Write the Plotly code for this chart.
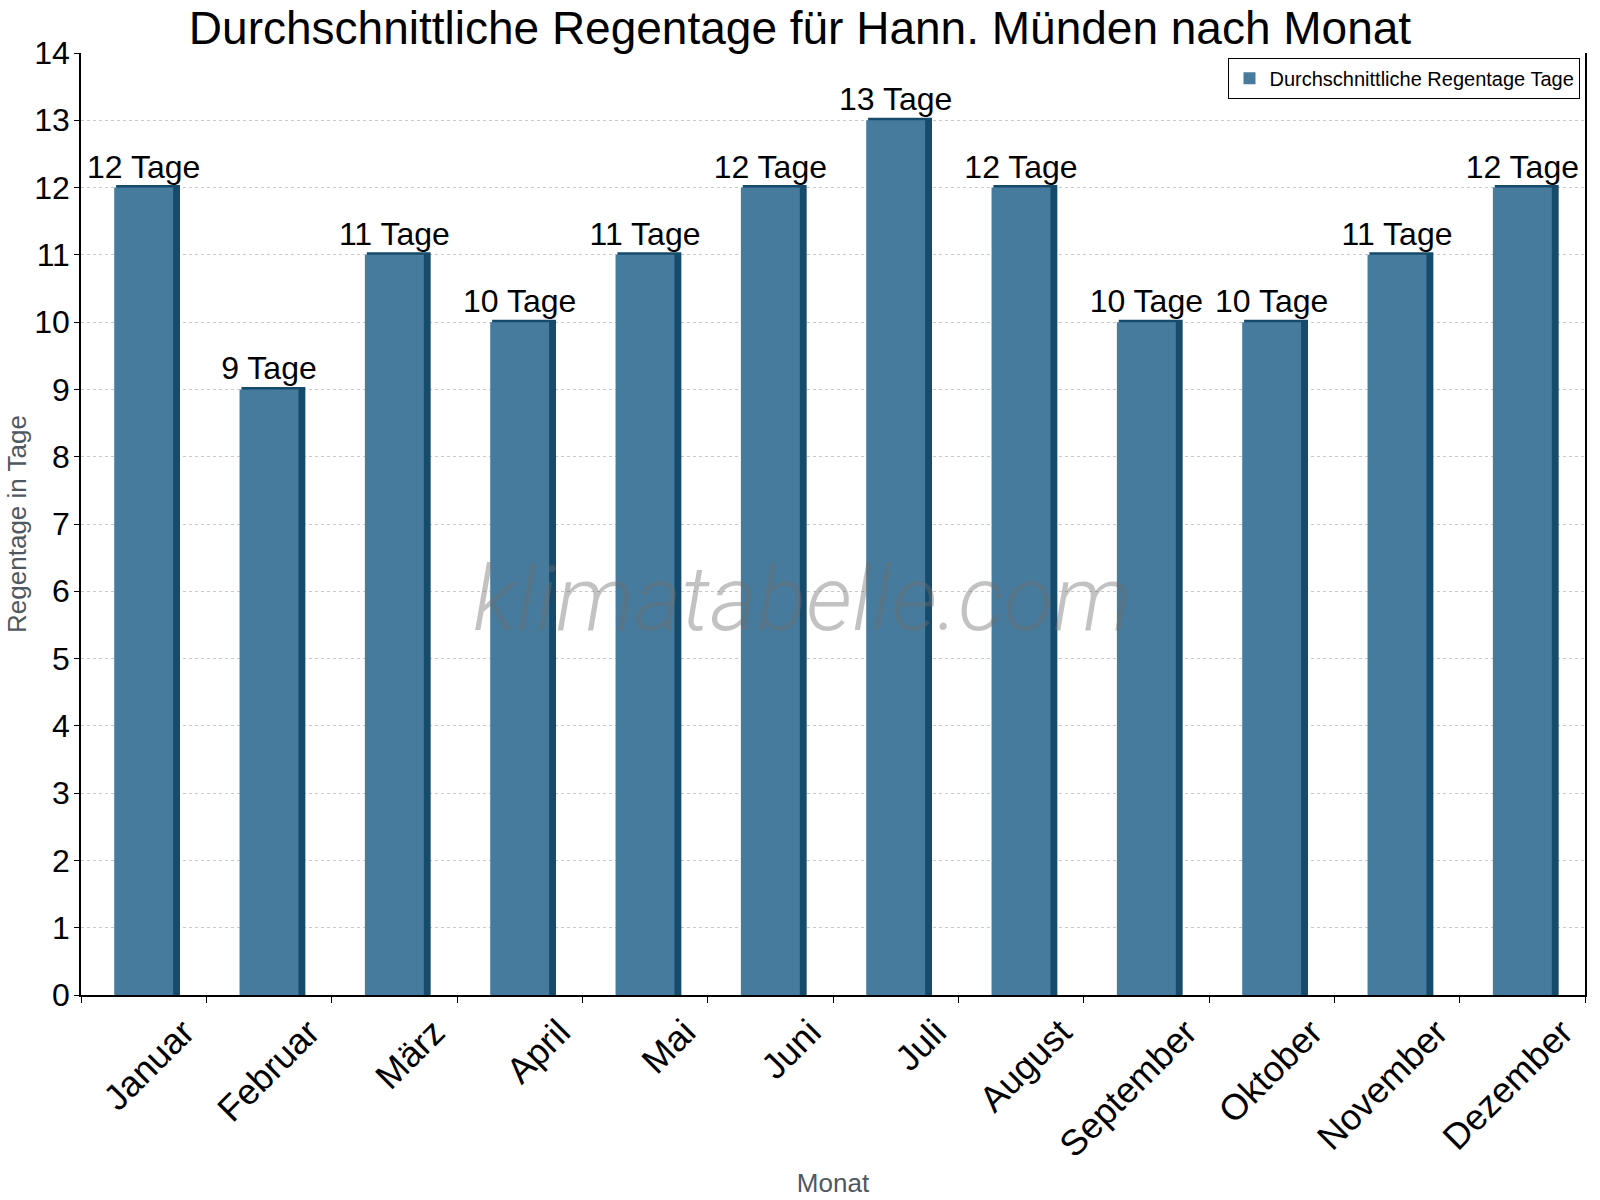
import plotly.graph_objects as go

months = ["Januar", "Februar", "März", "April", "Mai", "Juni", "Juli",
          "August", "September", "Oktober", "November", "Dezember"]
rain_days = [12, 9, 11, 10, 11, 12, 13, 12, 10, 10, 11, 12]
labels = [f"{v} Tage" for v in rain_days]
y_ticks = list(range(0, 15))

FACE = "#467b9d"
SIDE = "#174b6c"
BAR_W = 0.47

fig = go.Figure()
# dark "side/top" part of the pseudo-3D bar
fig.add_trace(go.Bar(
    x=months, y=rain_days, width=BAR_W, offset=-BAR_W / 2 + 0.035,
    marker=dict(color=SIDE, line=dict(color=SIDE, width=5)),
    showlegend=False, hoverinfo="skip",
))
# front face
fig.add_trace(go.Bar(
    x=months, y=rain_days, width=BAR_W, offset=-BAR_W / 2,
    name="Durchschnittliche Regentage Tage",
    marker=dict(color=FACE, line=dict(width=0)),
    text=labels, textposition="outside", cliponaxis=False, constraintext="none",
    textfont=dict(size=32, color="black", family="Liberation Sans, Arial"),
))

fig.add_annotation(
    text="klimatabelle.com", x=0.4795, y=0.42, xref="paper", yref="paper",
    showarrow=False,
    font=dict(size=91, color="rgba(110,110,110,0.42)", family="Roboto", weight=300, style="italic"),
)

fig.update_layout(
    width=1600, height=1200,
    barmode="overlay",
    plot_bgcolor="white", paper_bgcolor="white",
    margin=dict(l=81, r=15, t=53, b=205),
    font=dict(family="Liberation Sans, Arial", color="black"),
    title=dict(text="Durchschnittliche Regentage für Hann. Münden nach Monat",
               x=0.5, xanchor="center", y=0.977, yanchor="middle", yref="container",
               font=dict(size=46, color="black")),
    legend=dict(x=0.997, xanchor="right", y=0.995, yanchor="top",
                bordercolor="black", borderwidth=1, bgcolor="white",
                font=dict(size=20, color="black")),
    showlegend=True,
)
fig.update_xaxes(
    type="category", showline=True, linecolor="black", linewidth=1.5,
    ticks="outside", tickson="boundaries", ticklen=6, tickcolor="black",
    tickangle=-45, tickfont=dict(size=36, color="black"),
    ticklabelshift=40, automargin=False,
    title=dict(text="Monat", font=dict(size=26, color="#4f5861"), standoff=10),
    showgrid=False,
)
fig.update_yaxes(
    range=[0, 14], tickvals=y_ticks, showline=True, linecolor="black", linewidth=1.5,
    mirror=True, automargin=False,
    ticks="outside", ticklen=5, tickcolor="black", ticklabelstandoff=-2,
    tickfont=dict(size=32, color="black"),
    showgrid=True, gridcolor="#c8c8c8", griddash="dot", gridwidth=1,
    zeroline=False,
    title=dict(text="Regentage in Tage", font=dict(size=26, color="#4f5861"), standoff=0),
)

fig.write_html("out.html")
